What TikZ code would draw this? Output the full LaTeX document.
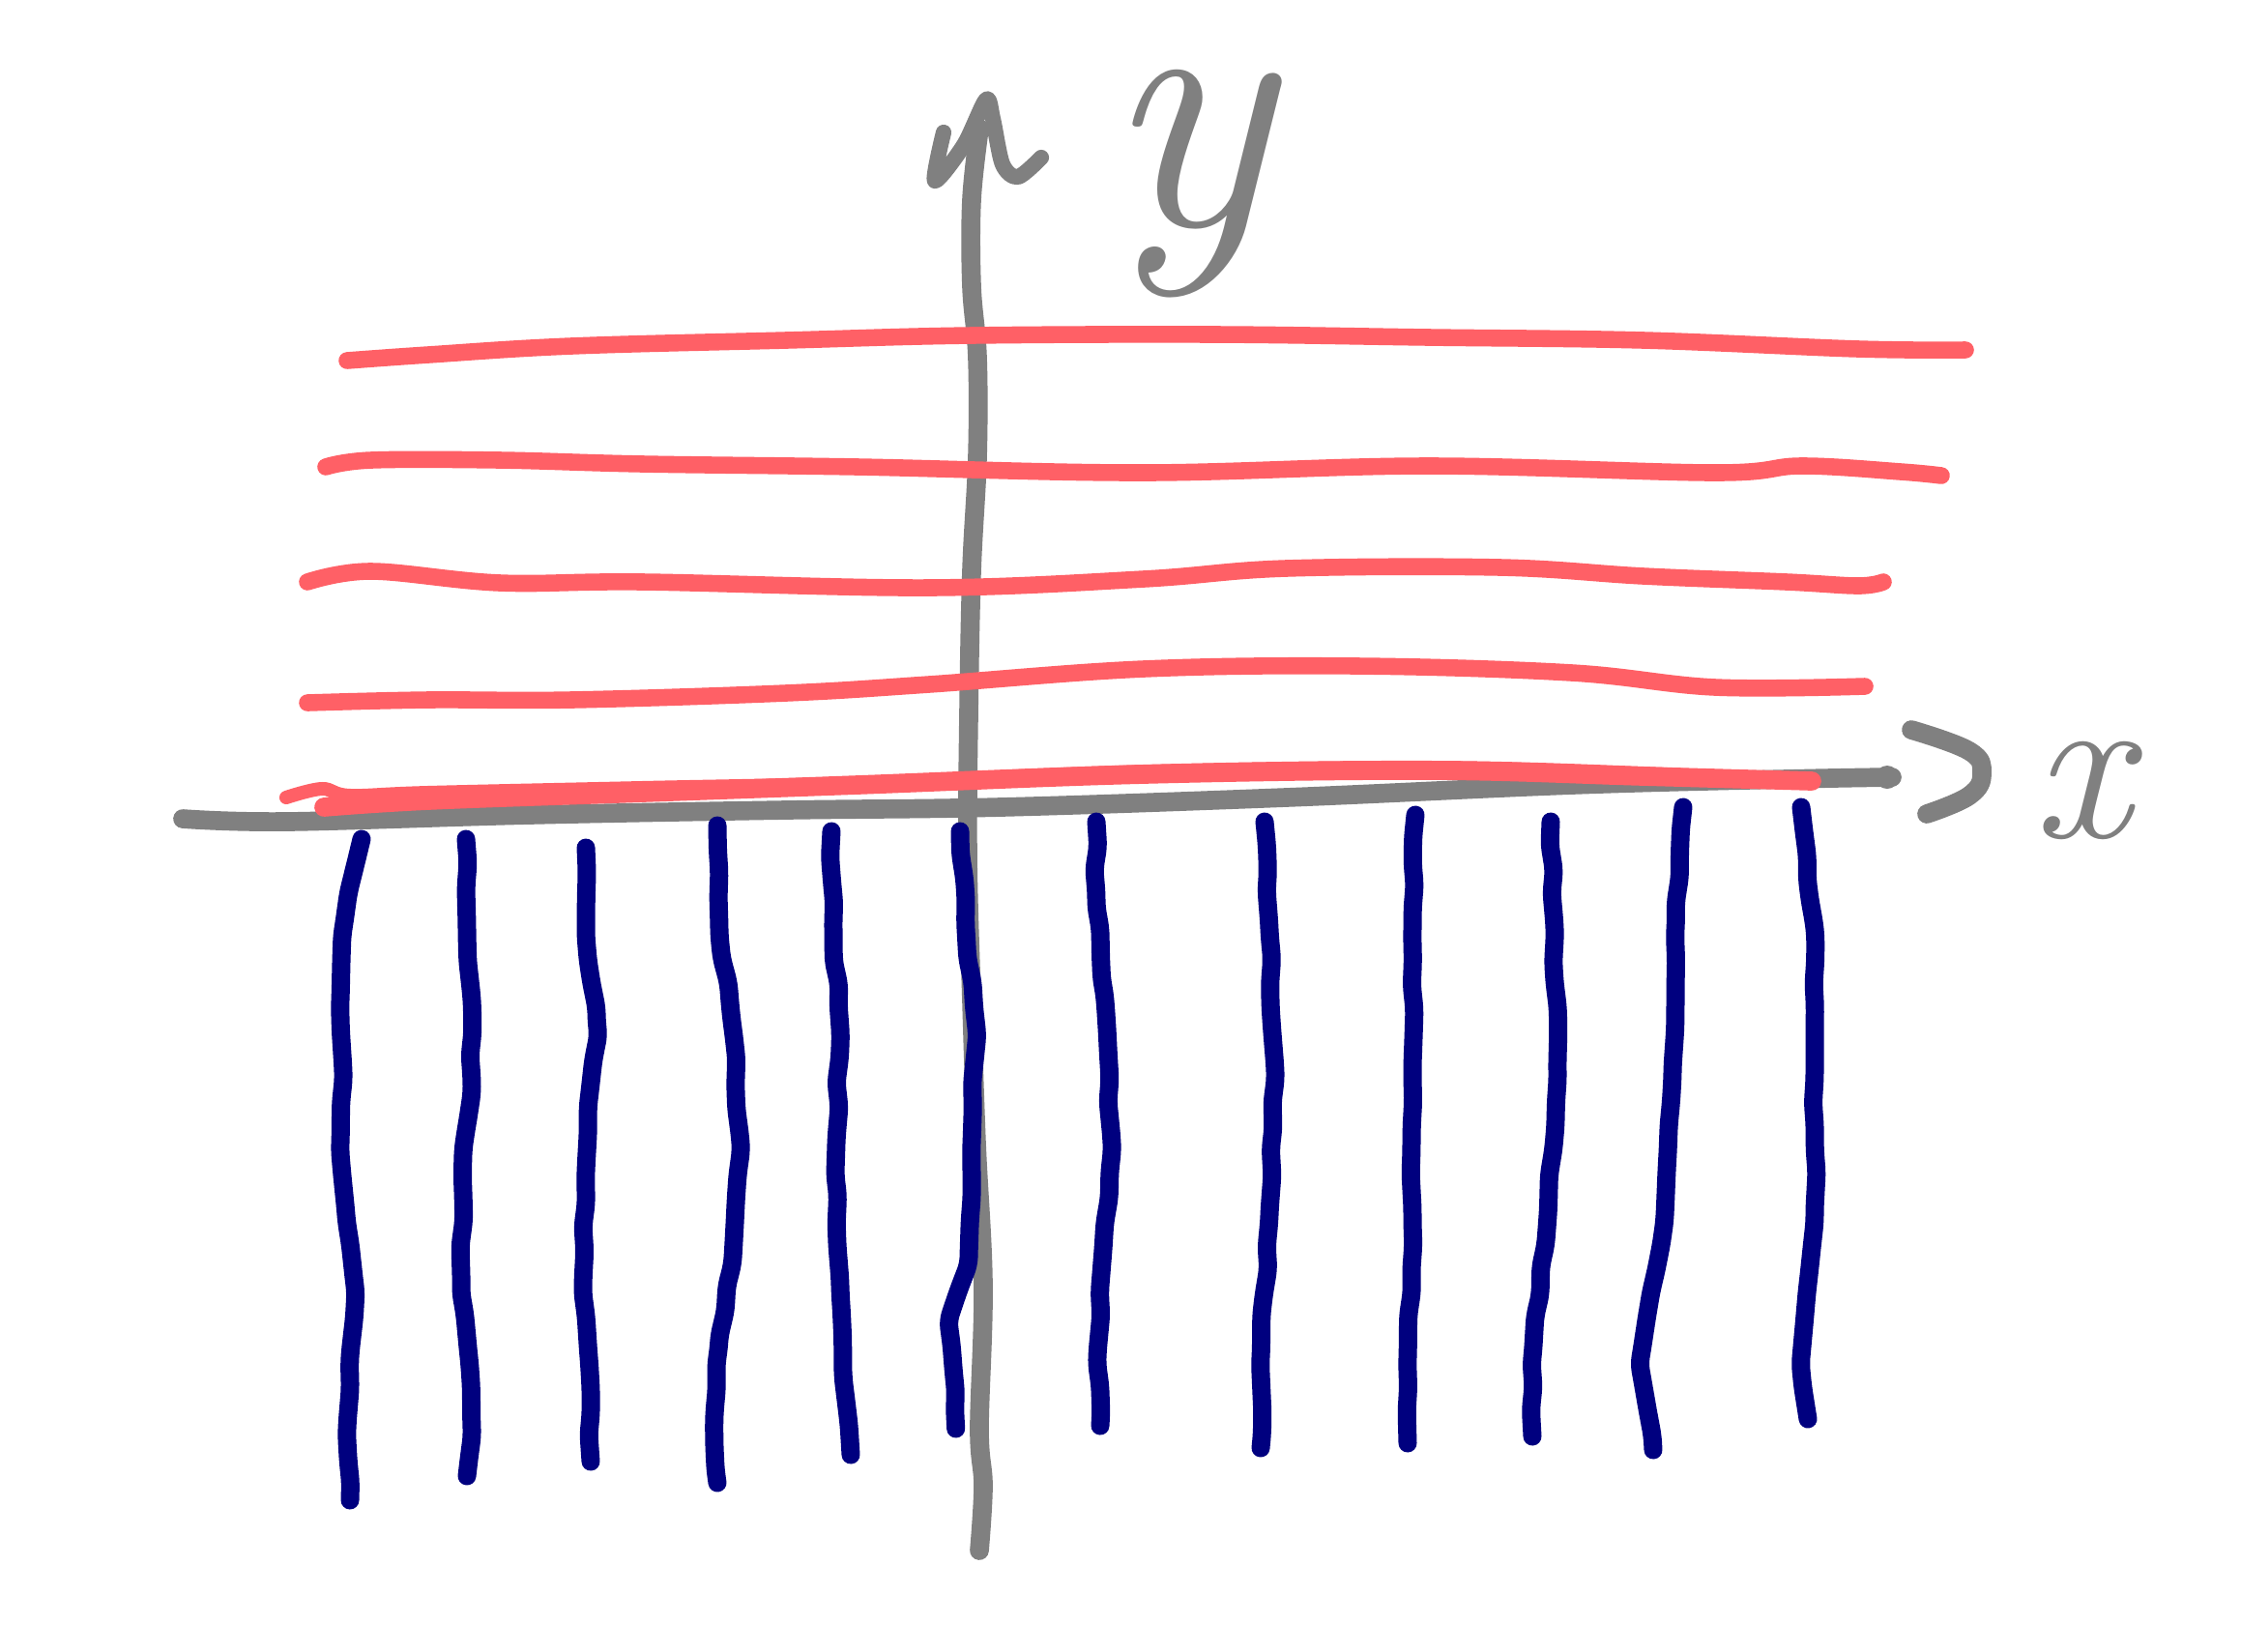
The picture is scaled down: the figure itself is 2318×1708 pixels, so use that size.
\documentclass[tikz,border=0pt]{standalone}
\usetikzlibrary{decorations.pathmorphing}
\definecolor{axisgray}{HTML}{808080}
\definecolor{penred}{HTML}{FF6066}
\definecolor{pennavy}{HTML}{00007F}
\begin{document}
\begin{tikzpicture}[x=0.01cm,y=-0.01cm,
  axispen/.style={draw=axisgray,line width=5.6pt,line cap=round,line join=round},
  redpen/.style={draw=penred,line width=5pt,line cap=round,line join=round},
  bluepen/.style={draw=pennavy,line width=5.4pt,line cap=round,line join=round,
     rounded corners=2pt,decorate,decoration={random steps,segment length=7pt,amplitude=0.6pt}},
  lbl/.style={text=axisgray,inner sep=6pt,font=\itshape}]
\pgfmathsetseed{11}
\useasboundingbox[fill=white] (0,0) rectangle (2318,1708);
% y axis
\draw[axispen] plot[smooth,tension=0.6] coordinates {(1013,1604) (1017,1537) (1013,1478) (1017,1330) (1010,1183) (1005,1035) (1001,887) (1002,739) (1005,591) (1011,473) (1011,370) (1005,296) (1005,207) (1013,133)};
\draw[axispen,line width=4.6pt] plot[smooth,tension=0.5] coordinates {(976,137) (967,187) (997,150) (1020,103) (1027,123) (1037,170) (1053,183) (1077,163)};
% x axis
\draw[axispen] plot[smooth,tension=0.6] coordinates {(189,847) (296,850) (547,843) (813,838) (1035,835) (1330,825) (1626,812) (1848,806) (1957,804)};
\fill[axisgray] (1952,804) circle[radius=12];
\draw[axispen] plot[smooth,tension=0.7] coordinates {(1977,755) (2037,777) (2050,800) (2037,823) (1993,842)};
% labels
\node[lbl,font=\fontsize{104}{104}\selectfont\itshape] (ylabel) at (1228,190) {y};
\node[lbl,font=\fontsize{64}{64}\selectfont\itshape] (xlabel) at (2153,818) {x};
% red lines
\draw[redpen] plot[smooth,tension=0.6] coordinates {(359,373) (443,367) (591,358) (813,352) (1005,347) (1257,346) (1478,349) (1700,352) (1922,361) (2033,362)};
\draw[redpen] plot[smooth,tension=0.6] coordinates {(337,483) (384,476) (517,476) (665,480) (887,483) (1183,489) (1478,482) (1774,489) (1863,482) (1966,488) (2008,492)};
\draw[redpen] plot[smooth,tension=0.6] coordinates {(318,602) (384,591) (517,603) (665,602) (961,608) (1183,599) (1330,588) (1552,587) (1700,596) (1848,602) (1922,606) (1948,602)};
\draw[redpen] plot[smooth,tension=0.6] coordinates {(318,727) (443,724) (591,724) (813,717) (961,708) (1183,692) (1404,689) (1626,696) (1774,711) (1929,710)};
\draw[redpen,line width=4pt] plot[smooth,tension=0.6] coordinates {(296,825) (333,816) (362,823) (443,820) (665,815) (887,810) (1183,798) (1478,794) (1700,800) (1874,809)};
\draw[redpen,line width=5.6pt] plot[smooth,tension=0.6] coordinates {(335,835) (443,828) (665,820) (887,812) (1183,801) (1478,797) (1700,803) (1874,808)};
% blue lines
\draw[bluepen] (374,868) -- (362,917) -- (355,961) -- (352,1035) -- (355,1109) -- (352,1183) -- (358,1257) -- (367,1330) -- (362,1404) -- (359,1478) -- (362,1552);
\draw[bluepen] (482,868) -- (483,961) -- (488,1035) -- (488,1124) -- (480,1183) -- (477,1330) -- (485,1404) -- (488,1478) -- (483,1527);
\draw[bluepen] (606,877) -- (606,961) -- (618,1064) -- (609,1138) -- (606,1212) -- (603,1330) -- (609,1404) -- (611,1512);
\draw[bluepen] (742,854) -- (744,961) -- (758,1064) -- (766,1183) -- (758,1301) -- (742,1404) -- (739,1464) -- (742,1534);
\draw[bluepen] (860,860) -- (862,961) -- (869,1064) -- (865,1183) -- (869,1330) -- (872,1419) -- (880,1505);
\draw[bluepen] (993,860) -- (999,961) -- (1010,1064) -- (1005,1183) -- (1002,1301) -- (983,1360) -- (988,1464) -- (988,1478);
\draw[bluepen] (1134,850) -- (1134,931) -- (1143,1035) -- (1150,1183) -- (1138,1330) -- (1135,1404) -- (1138,1475);
\draw[bluepen] (1308,850) -- (1313,961) -- (1319,1109) -- (1313,1257) -- (1304,1404) -- (1304,1498);
\draw[bluepen] (1464,843) -- (1461,961) -- (1461,1109) -- (1461,1257) -- (1456,1404) -- (1456,1493);
\draw[bluepen] (1604,850) -- (1608,961) -- (1611,1109) -- (1601,1257) -- (1585,1404) -- (1585,1486);
\draw[bluepen] (1741,835) -- (1733,961) -- (1730,1109) -- (1722,1257) -- (1697,1404) -- (1710,1500);
\draw[bluepen] (1863,835) -- (1877,961) -- (1877,1109) -- (1877,1257) -- (1863,1404) -- (1870,1468);
\end{tikzpicture}
\end{document}
